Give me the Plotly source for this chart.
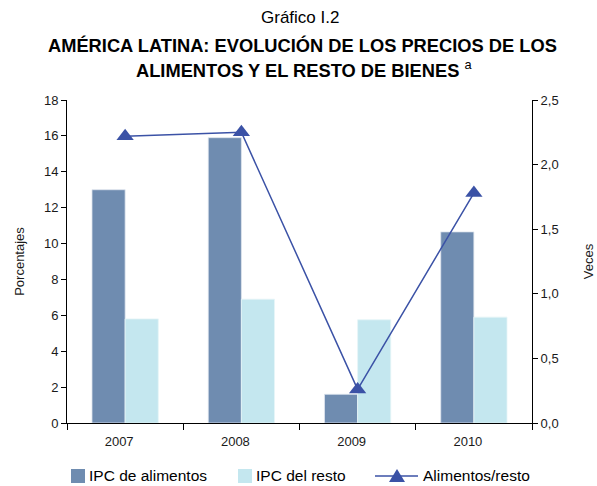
import plotly.graph_objects as go

# Años y series del gráfico
years = ["2007", "2008", "2009", "2010"]
ipc_alimentos = [13.0, 15.9, 1.6, 10.65]
ipc_resto = [5.8, 6.9, 5.75, 5.9]
alimentos_resto = [2.22, 2.25, 0.26, 1.78]

series_names = ["IPC de alimentos", "IPC del resto", "Alimentos/resto"]
COL_ALIM = "#6f8cb0"
COL_RESTO = "#c4e7ef"
COL_RATIO = "#3b52a6"

FONT = "Liberation Sans, Arial, sans-serif"
W, H = 597, 486
ML, MR, MT, MB = 67, 65, 100, 63
PW, PH = W - ML - MR, H - MT - MB


def px_x(x):
    return (x - ML) / PW


def px_y(y):
    return 1 - (y - MT) / PH


fig = go.Figure()
fig.add_trace(go.Bar(
    x=years, y=ipc_alimentos, name=series_names[0],
    marker=dict(color=COL_ALIM, line=dict(color="#dfe6ef", width=0.8)),
))
fig.add_trace(go.Bar(
    x=years, y=ipc_resto, name=series_names[1],
    marker=dict(color=COL_RESTO, line=dict(color="#e6f5f8", width=0.8)),
))
fig.add_trace(go.Scatter(
    x=years, y=alimentos_resto, name=series_names[2], yaxis="y2",
    mode="lines+markers",
    line=dict(color=COL_RATIO, width=1.5),
    marker=dict(symbol="triangle-up", size=15, color=COL_RATIO),
))

# Leyenda dibujada a mano bajo el eje
LEG_Y = 476
shapes = [
    dict(type="rect", xref="paper", yref="paper",
         x0=px_x(71), x1=px_x(85), y0=px_y(LEG_Y - 7), y1=px_y(LEG_Y + 7),
         fillcolor=COL_ALIM, line=dict(width=0)),
    dict(type="rect", xref="paper", yref="paper",
         x0=px_x(238), x1=px_x(252), y0=px_y(LEG_Y - 7), y1=px_y(LEG_Y + 7),
         fillcolor=COL_RESTO, line=dict(width=0)),
    dict(type="line", xref="paper", yref="paper",
         x0=px_x(375), x1=px_x(418), y0=px_y(LEG_Y), y1=px_y(LEG_Y),
         line=dict(color=COL_RATIO, width=1.5)),
    dict(type="path", xref="paper", yref="paper",
         path="M {} {} L {} {} L {} {} Z".format(
             px_x(389), px_y(LEG_Y + 6), px_x(405), px_y(LEG_Y + 6),
             px_x(397), px_y(LEG_Y - 7)),
         fillcolor=COL_RATIO, line=dict(width=0)),
]
legend_labels = [
    dict(text=series_names[0], x=px_x(87)),
    dict(text=series_names[1], x=px_x(254)),
    dict(text=series_names[2], x=px_x(421)),
]
annotations = [
    dict(xref="paper", yref="paper", xanchor="left", yanchor="bottom",
         y=px_y(486), showarrow=False,
         font=dict(size=15.5, family=FONT, color="black"), **a)
    for a in legend_labels
]

annotations += [
    dict(text="Gráfico I.2", x=px_x(300), y=px_y(18),
         xref="paper", yref="paper", xanchor="center", yanchor="middle",
         showarrow=False, font=dict(size=17, family=FONT, color="black")),
    dict(text="<b>AMÉRICA LATINA: EVOLUCIÓN DE LOS PRECIOS DE LOS</b>",
         x=px_x(46), y=px_y(45), xref="paper", yref="paper",
         xanchor="left", yanchor="middle", showarrow=False,
         font=dict(size=18.3, family=FONT, color="black")),
    dict(text="<b>ALIMENTOS Y EL RESTO DE BIENES</b> <sup>a</sup>",
         x=px_x(134), y=px_y(69), xref="paper", yref="paper",
         xanchor="left", yanchor="middle", showarrow=False,
         font=dict(size=18.3, family=FONT, color="black")),
]

fig.update_layout(
    width=W, height=H,
    margin=dict(l=ML, r=MR, t=MT, b=MB, autoexpand=False),
    paper_bgcolor="white", plot_bgcolor="white",
    font=dict(family=FONT, size=13, color="#1a1a1a"),
    separators=",.",
    barmode="group", bargap=0.43, bargroupgap=0,
    showlegend=False,
    xaxis=dict(
        type="category", tickson="boundaries",
        showline=True, linecolor="black", linewidth=1,
        ticks="outside", ticklen=6, tickcolor="black",
        ticklabelstandoff=6, ticklabelshift=-6,
        tickfont=dict(size=13), showgrid=False,
    ),
    yaxis=dict(
        range=[0, 18], dtick=2, showgrid=False, zeroline=False,
        showline=True, linecolor="black", linewidth=1,
        ticks="outside", ticklen=5, tickcolor="black",
        tickfont=dict(size=13),
        title=dict(text="Porcentajes", font=dict(size=13), standoff=16),
    ),
    yaxis2=dict(
        range=[0, 2.5], dtick=0.5, tickformat=".1f", overlaying="y", side="right",
        showgrid=False, zeroline=False,
        showline=True, linecolor="black", linewidth=1,
        ticks="outside", ticklen=5, tickcolor="black",
        tickfont=dict(size=13),
        title=dict(text="Veces", font=dict(size=13), standoff=26),
    ),
    shapes=shapes,
    annotations=annotations,
)

fig.write_html("out.html")
